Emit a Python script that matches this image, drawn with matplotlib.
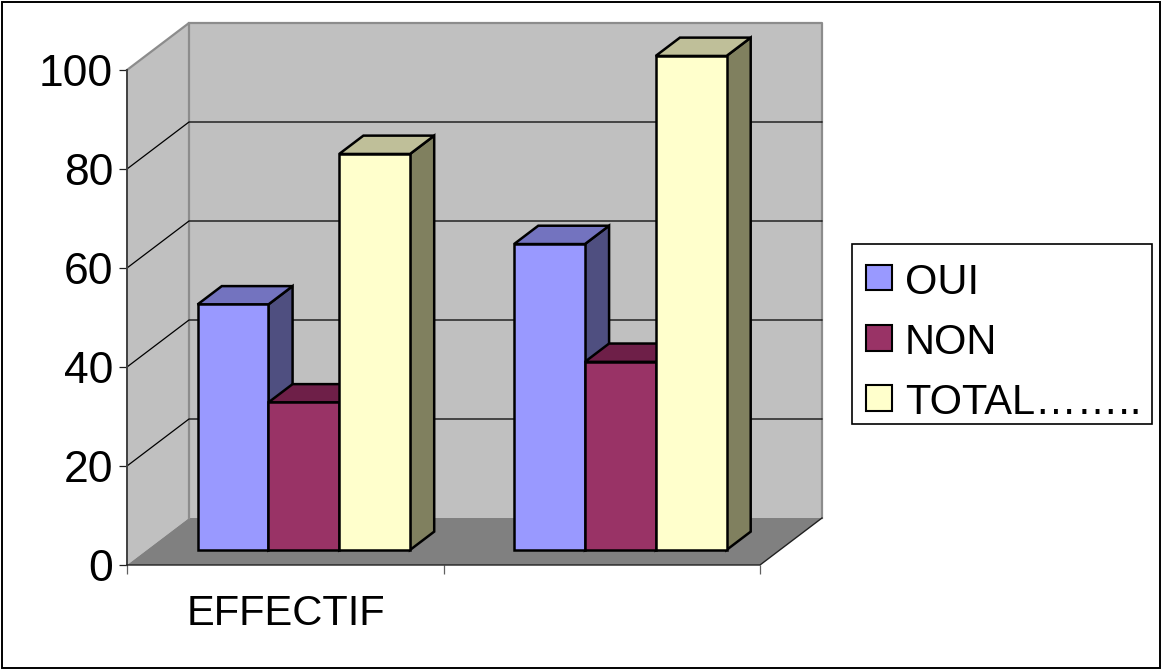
"""Histogramme 3D OUI / NON / TOTAL, dessine a la main avec des polygones"""

import matplotlib
matplotlib.use("Agg")
import matplotlib.pyplot as plt
from matplotlib.patches import Polygon, Rectangle

plt.rcParams['font.family'] = ['Liberation Sans', 'DejaVu Sans']

categories = ['EFFECTIF', '']
series_names = ['OUI', 'NON', 'TOTAL……..']
oui = [49.6, 61.8]
non = [29.8, 38]
total = [80, 99.8]
y_ticks = [0, 20, 40, 60, 80, 100]

front_colors = ['#9999FF', '#993366', '#FFFFCC']
side_colors = ['#4F4F80', '#4F1F36', '#80805F']
top_colors = ['#7373BF', '#6E1F48', '#BFBF99']

W, H = 1162, 670
# profondeur du cadre, en unites de donnees
DX = 62 / 316.5
DY = 47 / 4.95
GAP = 1 / 6 - 0.0063
BAR_W = 2 / 9 + 0.0015
# les barres sont posees entre ces deux profondeurs
D0 = 0.32
D1 = 0.71


def poly(ax, pts, color, z, lw=0.0, edge='black'):
    ax.add_patch(Polygon(pts, closed=True, facecolor=color, edgecolor=edge,
                         linewidth=lw, zorder=z, clip_on=False))


def draw_bar(ax, x, val, i, z):
    """une barre: face, cote et dessus"""
    x0 = x + D0 * DX
    x1 = x0 + BAR_W
    y0 = D0 * DY
    y1 = y0 + val
    ddx = (D1 - D0) * DX
    ddy = (D1 - D0) * DY
    poly(ax, [(x1, y0), (x1 + ddx, y0 + ddy), (x1 + ddx, y1 + ddy), (x1, y1)],
         side_colors[i], z, 1.8)
    poly(ax, [(x0, y1), (x1, y1), (x1 + ddx, y1 + ddy), (x0 + ddx, y1 + ddy)],
         top_colors[i], z, 1.8)
    poly(ax, [(x0, y0), (x1, y0), (x1, y1), (x0, y1)],
         front_colors[i], z + 0.1, 1.8)


fig = plt.figure(figsize=(W / 100, H / 100), dpi=100)
fig.add_artist(Rectangle((2 / W, 2 / H), (W - 4) / W, (H - 4) / H,
                         transform=fig.transFigure, fill=False,
                         edgecolor='black', linewidth=1.4))

ax = fig.add_axes([127 / W, (H - 565) / H, (760 - 127) / W, (565 - 70) / H])
ax.set_xlim(0, 2)
ax.set_ylim(0, 100)
ax.patch.set_visible(False)
for name in ['top', 'right', 'bottom', 'left']:
    ax.spines[name].set_visible(False)

# parois et sol
poly(ax, [(DX, DY), (2 + DX, DY), (2 + DX, 100 + DY), (DX, 100 + DY)], '#C0C0C0', 1)
poly(ax, [(0, 0), (DX, DY), (DX, 100 + DY), (0, 100)], '#C0C0C0', 1)
poly(ax, [(0, 0), (2, 0), (2 + DX, DY), (DX, DY)], '#808080', 1)
for pts in ([(DX, 100 + DY), (2 + DX, 100 + DY), (2 + DX, DY)],
            [(0, 100), (DX, 100 + DY), (DX, DY)]):
    ax.plot(*zip(*pts), color='#8C8C8C', linewidth=1.6, zorder=1.5, clip_on=False)

for t in y_ticks[1:-1]:
    ax.plot([0, DX, 2 + DX], [t, t + DY, t + DY], color='black', linewidth=0.9,
            zorder=2, clip_on=False)

# axes de face
ax.plot([0, 0], [0, 100], color='#404040', linewidth=1.4, zorder=3, clip_on=False)
ax.plot([0, 2, 2 + DX], [0, 0, DY], color='#202020', linewidth=1.0, zorder=3, clip_on=False)

ax.set_yticks(y_ticks)
ax.set_xticks([0, 1, 2])
ax.set_xticklabels([])
ax.tick_params(axis='y', labelsize=32, length=6, width=0.9, color='#202020', pad=4)
ax.tick_params(axis='x', length=6.5, width=0.9, color='#606060')
ax.text(0.5 + 0.003, -8.9, categories[0], fontsize=30, ha='center', va='center_baseline')

for c, vals in enumerate(zip(oui, non, total)):
    for i, val in enumerate(vals):
        draw_bar(ax, c + GAP + i * BAR_W, val, i, 5 + i)

# legende
fig.add_artist(Rectangle((852 / W, (H - 424) / H), 300 / W, 180 / H,
                         transform=fig.transFigure, facecolor='white',
                         edgecolor='black', linewidth=1.2))
for i, name in enumerate(series_names):
    yc = 277.5 + 60 * i
    fig.add_artist(Rectangle((866 / W, (H - yc - 13) / H), 26 / W, 26 / H,
                             transform=fig.transFigure,
                             facecolor=front_colors[i], edgecolor='black',
                             linewidth=1.5))
    fig.text(905 / W, (H - yc - 1) / H, name, fontsize=30, va='center_baseline')

fig.savefig('out.png', dpi=100)
